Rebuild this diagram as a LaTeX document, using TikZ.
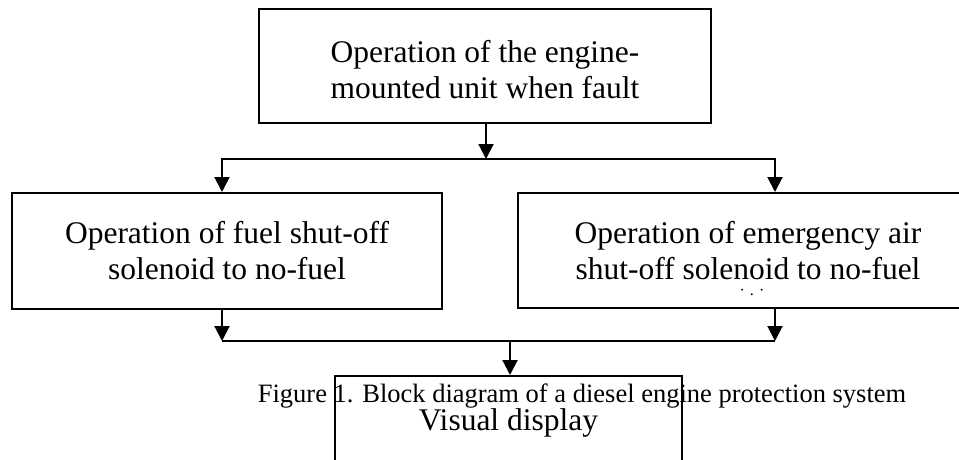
\documentclass[tikz,border=0pt]{standalone}
\usepackage{fontspec}
\setmainfont{Liberation Serif}
\usetikzlibrary{calc,positioning,arrows.meta}
\tikzset{
	>={Triangle[length=15pt,width=15pt]},
	blockbox/.style={
		rectangle,
		draw=black, line width=2pt,
		align=center,
		font=\fontsize{31.5}{36}\selectfont,
		inner sep=0pt},
	line/.style={draw, line width=2pt},
	capnode/.style={font=\fontsize{26.5}{30}\selectfont, inner sep=0pt},
}

\begin{document}
\begin{tikzpicture}
[x=1pt, y=-1pt]
\clip (0,0) rectangle (959,459);
\node[blockbox, minimum width=452pt, minimum height=114pt, text height=66pt] (fault) at (485,66) {Operation of the engine-\\mounted unit when fault};
\node[blockbox, minimum width=430pt, minimum height=116pt] (fuel) at (227,251) {Operation of fuel shut-off\\solenoid to no-fuel};
\node[blockbox, minimum width=460pt, minimum height=115pt] (air) at (748,250.5) {Operation of emergency air\\shut-off solenoid to no-fuel};
\node[font=\fontsize{16}{18}\selectfont, inner sep=0pt, anchor=base] (dots) at (752,295) {·\hspace{5pt}.\hspace{5pt}·};
\node[capnode] (caption) at (582,396) {Figure 1. Block diagram of a diesel engine protection system};
\node[blockbox, anchor=north, minimum width=347pt, text depth=60pt, inner ysep=33pt] (display) at (508.5,375) {Visual display};

% split and join points
\coordinate (split) at (486,159);
\coordinate (splitL) at (222,159);
\coordinate (splitR) at (775,159);
\coordinate (joinL) at (222,341);
\coordinate (joinR) at (775,341);
\coordinate (join) at (510,341);

\draw[line, ->] (fault.south -| split) -- (split);
\draw[line, <->] (fuel.north -| splitL) -- (splitL) -- (splitR) -- (air.north -| splitR);
\draw[line, ->] (fuel.south -| joinL) -- (joinL);
\draw[line, ->] (air.south -| joinR) -- (joinR);
\draw[line] (joinL) -- (joinR);
\draw[line, ->] (join) -- (display.north -| join);
\end{tikzpicture}
\end{document}
